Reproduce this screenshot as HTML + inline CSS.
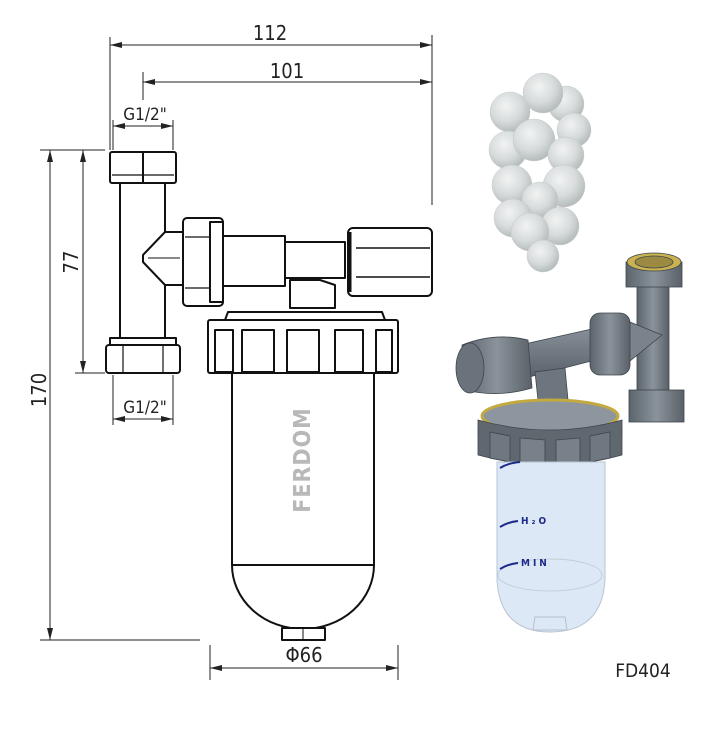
<!DOCTYPE html>
<html><head><meta charset="utf-8"><style>
html,body{margin:0;padding:0;background:#fff;}
svg{display:block;}
text{font-family:"DejaVu Sans Condensed","DejaVu Sans","Liberation Sans",sans-serif;}
</style></head><body>
<svg width="705" height="733" viewBox="0 0 705 733" xmlns="http://www.w3.org/2000/svg">
<defs>
<marker id="a" markerWidth="12" markerHeight="6" refX="12" refY="3" orient="auto-start-reverse" markerUnits="userSpaceOnUse"><path d="M0,0 L12,3 L0,6 Z" fill="#222"/></marker>
<radialGradient id="ball" cx="40%" cy="35%" r="65%"><stop offset="0" stop-color="#f0f2f2"/><stop offset="0.6" stop-color="#d0d5d5"/><stop offset="1" stop-color="#aab2b2"/></radialGradient>
<linearGradient id="gr" x1="0" x2="1"><stop offset="0" stop-color="#5c646c"/><stop offset="0.5" stop-color="#8a939b"/><stop offset="1" stop-color="#5a6168"/></linearGradient>
<linearGradient id="gv" x1="0" y1="0" x2="0" y2="1"><stop offset="0" stop-color="#8a939b"/><stop offset="1" stop-color="#59616a"/></linearGradient>
</defs>
<g stroke="#222" stroke-width="1" fill="none">
<line x1="110" y1="37" x2="110" y2="150"/>
<line x1="432" y1="35" x2="432" y2="205"/>
<line x1="143" y1="72" x2="143" y2="100"/>
<line x1="113" y1="120" x2="113" y2="150"/>
<line x1="173" y1="120" x2="173" y2="150"/>
<line x1="40" y1="150" x2="105" y2="150"/>
<line x1="75" y1="373" x2="105" y2="373"/>
<line x1="40" y1="640" x2="200" y2="640"/>
<line x1="113" y1="375" x2="113" y2="425"/>
<line x1="173" y1="375" x2="173" y2="425"/>
<line x1="210" y1="645" x2="210" y2="680"/>
<line x1="398" y1="645" x2="398" y2="680"/>
<line x1="110" y1="45" x2="432" y2="45" marker-start="url(#a)" marker-end="url(#a)"/>
<line x1="143" y1="82" x2="432" y2="82" marker-start="url(#a)" marker-end="url(#a)"/>
<line x1="113" y1="126" x2="173" y2="126" marker-start="url(#a)" marker-end="url(#a)"/>
<line x1="113" y1="419" x2="173" y2="419" marker-start="url(#a)" marker-end="url(#a)"/>
<line x1="50" y1="150" x2="50" y2="640" marker-start="url(#a)" marker-end="url(#a)"/>
<line x1="83" y1="150" x2="83" y2="373" marker-start="url(#a)" marker-end="url(#a)"/>
<line x1="210" y1="668" x2="398" y2="668" marker-start="url(#a)" marker-end="url(#a)"/>
</g>
<g fill="#222" font-size="20">
<text x="270" y="40" text-anchor="middle">112</text>
<text x="287" y="78" text-anchor="middle">101</text>
<text x="145" y="120" text-anchor="middle" font-size="17">G1/2"</text>
<text x="145" y="413" text-anchor="middle" font-size="17">G1/2"</text>
<text transform="translate(46,390) rotate(-90)" text-anchor="middle">170</text>
<text transform="translate(78,262) rotate(-90)" text-anchor="middle">77</text>
<text x="304" y="662" text-anchor="middle">Φ66</text>
<text x="643" y="677" text-anchor="middle" font-size="19">FD404</text>
</g>
<g stroke="#111" stroke-width="2" fill="#fff" stroke-linejoin="round">
<rect x="120" y="183" width="45" height="157"/>
<rect x="110" y="152" width="66" height="31" rx="2"/>
<line x1="143" y1="152" x2="143" y2="183"/>
<line x1="112" y1="175" x2="174" y2="175" stroke-width="1.2"/>
<rect x="110" y="338" width="66" height="8"/>
<rect x="106" y="345" width="74" height="28" rx="3"/>
<line x1="123" y1="345" x2="123" y2="373" stroke-width="1.2"/>
<line x1="163" y1="345" x2="163" y2="373" stroke-width="1.2"/>
<path d="M165,232 L143,255 L143,262 L165,285 L185,285 L185,232 Z"/>
<path d="M148,258 L180,258" stroke-width="1"/>
<rect x="183" y="218" width="40" height="88" rx="4"/>
<line x1="185" y1="237" x2="210" y2="237" stroke-width="1.2"/>
<line x1="185" y1="288" x2="210" y2="288" stroke-width="1.2"/>
<rect x="210" y="222" width="13" height="80"/>
<rect x="223" y="236" width="62" height="50"/>
<rect x="285" y="242" width="60" height="36"/>
<path d="M290,280 L290,308 L335,308 L335,285 L320,280 Z"/>
<rect x="348" y="228" width="84" height="68" rx="5"/>
<line x1="356" y1="248" x2="430" y2="248" stroke-width="1.5"/>
<line x1="356" y1="277" x2="430" y2="277" stroke-width="1.5"/>
<line x1="350" y1="232" x2="350" y2="292" stroke-width="3"/>
<path d="M232,373 L232,565 A71,64 0 0 0 374,565 L374,373 Z"/>
<line x1="232" y1="565" x2="374" y2="565"/>
<rect x="282" y="628" width="43" height="12"/>
<line x1="303" y1="628" x2="303" y2="640" stroke-width="1"/>
<path d="M225,320 L228,312 L382,312 L385,320 Z"/>
<rect x="208" y="320" width="190" height="53" rx="2"/>
<rect x="215" y="330" width="18" height="42"/>
<rect x="242" y="330" width="32" height="42"/>
<rect x="287" y="330" width="32" height="42"/>
<rect x="335" y="330" width="28" height="42"/>
<rect x="376" y="330" width="16" height="42"/>
</g>
<text transform="translate(310,460) rotate(-90)" text-anchor="middle" fill="#b8b8b8" font-size="23" font-family="Liberation Sans,sans-serif" font-weight="bold" letter-spacing="1">FERDOM</text>
<g stroke="#bcc2c2" stroke-width="0.5" opacity="0.85">
<circle cx="510" cy="112" r="20" fill="url(#ball)"/>
<circle cx="566" cy="104" r="18" fill="url(#ball)"/>
<circle cx="543" cy="93" r="20" fill="url(#ball)"/>
<circle cx="574" cy="130" r="17" fill="url(#ball)"/>
<circle cx="508" cy="150" r="19" fill="url(#ball)"/>
<circle cx="534" cy="140" r="21" fill="url(#ball)"/>
<circle cx="566" cy="155" r="18" fill="url(#ball)"/>
<circle cx="512" cy="185" r="20" fill="url(#ball)"/>
<circle cx="564" cy="186" r="21" fill="url(#ball)"/>
<circle cx="540" cy="200" r="18" fill="url(#ball)"/>
<circle cx="513" cy="218" r="19" fill="url(#ball)"/>
<circle cx="560" cy="226" r="19" fill="url(#ball)"/>
<circle cx="530" cy="232" r="19" fill="url(#ball)"/>
<circle cx="543" cy="256" r="16" fill="url(#ball)"/>
</g>
<g stroke="#3e454c" stroke-width="0.8">
<rect x="637" y="285" width="32" height="112" fill="url(#gr)"/>
<rect x="626" y="262" width="56" height="25" fill="url(#gr)"/>
<ellipse cx="654" cy="262" rx="27" ry="9" fill="#c9b24f"/>
<ellipse cx="654" cy="262" rx="19" ry="6" fill="#9c8a42"/>
<rect x="629" y="390" width="55" height="32" fill="url(#gr)"/>
<path d="M620,318 L662,335 L625,365 Z" fill="#7a838b"/>
<path d="M520,345 L610,325 L615,355 L525,378 Z" fill="url(#gv)"/>
<rect x="590" y="313" width="40" height="62" rx="10" fill="url(#gr)"/>
<path d="M535,372 L538,400 L568,400 L565,368 Z" fill="#6d767e"/>
<ellipse cx="550" cy="432" rx="72" ry="22" fill="#6b737b"/>
<ellipse cx="550" cy="416" rx="68" ry="16" fill="#8d969e" stroke="#c2a940" stroke-width="3"/>
<path d="M478,420 L478,455 Q550,475 622,455 L622,420 Q550,440 478,420 Z" fill="#5f676f"/>
<path d="M490,432 L490,458 L510,462 L510,436 Z" fill="#6f7880"/>
<path d="M520,438 L520,464 L545,466 L545,440 Z" fill="#78818a"/>
<path d="M556,440 L556,466 L580,464 L580,438 Z" fill="#78818a"/>
<path d="M590,436 L590,462 L610,458 L610,432 Z" fill="#6f7880"/>
<path d="M462,345 Q495,332 528,340 L532,388 Q498,398 465,390 Z" fill="url(#gr)"/>
<ellipse cx="470" cy="368" rx="14" ry="25" fill="#6a737b"/>
</g>
<path d="M497,462 L497,580 Q500,632 550,632 Q602,632 605,580 L605,462 Z" fill="#dde8f7" stroke="#b8c4d4" stroke-width="1"/>
<ellipse cx="550" cy="575" rx="52" ry="16" fill="none" stroke="#c4ccd8"/>
<path d="M535,617 L565,617 L567,630 L533,630 Z" fill="none" stroke="#b8bec8"/>
<g fill="#1d2a8a" font-size="10" font-weight="bold" font-family="Liberation Sans,sans-serif">
<path d="M500,468 Q508,463 520,462" stroke="#1d2a8a" stroke-width="2" fill="none"/>
<path d="M500,527 Q508,522 518,521" stroke="#1d2a8a" stroke-width="2" fill="none"/>
<text x="521" y="524" letter-spacing="3">H₂O</text>
<path d="M500,569 Q508,564 518,563" stroke="#1d2a8a" stroke-width="2" fill="none"/>
<text x="521" y="566" letter-spacing="3">MIN</text>
</g>
</svg>
</body></html>
